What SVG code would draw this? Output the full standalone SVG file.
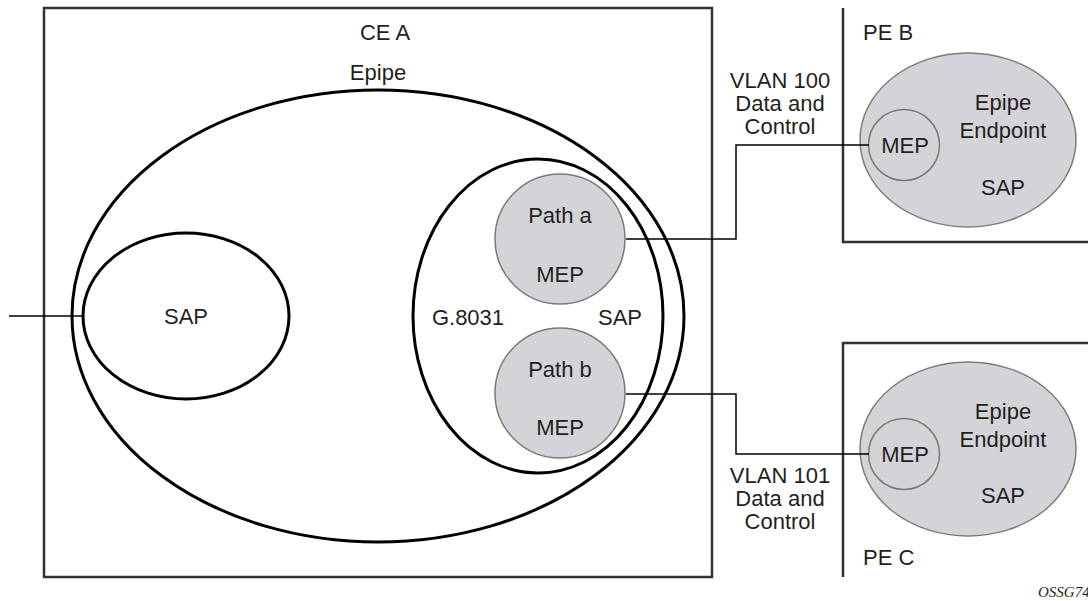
<svg xmlns="http://www.w3.org/2000/svg" width="1088" height="601" viewBox="0 0 1088 601">
<style>
.box{fill:none;stroke:#333;stroke-width:2.5}
.ell{fill:none;stroke:#000;stroke-width:3}
.grey{fill:#d4d4d8;stroke:#7a7a7a;stroke-width:1.5}
.conn{fill:none;stroke:#000;stroke-width:1.5}
text{font-family:"Liberation Sans",Arial,sans-serif;font-size:22px;fill:#231f20;text-anchor:middle}
.lab{text-anchor:start}
.tag{font-family:"Liberation Serif","Times New Roman",serif;font-style:italic;font-size:15px;text-anchor:start}
</style>
<rect width="1088" height="601" fill="#fff"/>
<g id="ce-a">
<rect class="box" x="44" y="8" width="668" height="569"/>
<text x="385" y="40">CE A</text>
</g>
<g id="epipe">
<ellipse class="ell" cx="378" cy="316" rx="306" ry="226"/>
<text x="378" y="80">Epipe</text>
</g>
<g id="sap-left">
<ellipse class="ell" cx="186" cy="316" rx="103" ry="83"/>
<text x="186" y="324">SAP</text>
</g>
<g id="g8031-sap">
<ellipse class="ell" cx="538" cy="316" rx="125" ry="157"/>
<text x="468" y="325">G.8031</text>
<text x="620" y="325">SAP</text>
</g>
<g id="path-a">
<circle class="grey" cx="560" cy="239" r="65"/>
<text x="560" y="223">Path a</text>
<text x="560" y="282">MEP</text>
</g>
<g id="path-b">
<circle class="grey" cx="560" cy="393" r="65"/>
<text x="560" y="377">Path b</text>
<text x="560" y="435">MEP</text>
</g>
<g id="pe-b">
<polyline class="box" points="843,8 843,242 1090,242"/>
<text class="lab" x="863" y="40">PE B</text>
<ellipse class="grey" cx="968" cy="140" rx="108" ry="87"/>
<text x="1003" y="110">Epipe</text>
<text x="1003" y="138">Endpoint</text>
<text x="1003" y="195">SAP</text>
</g>
<g id="pe-b-mep">
<circle class="grey" cx="904" cy="145" r="35.5"/>
<text x="905" y="153">MEP</text>
</g>
<g id="pe-c">
<polyline class="box" points="843,577 843,343 1090,343"/>
<text class="lab" x="863" y="565">PE C</text>
<ellipse class="grey" cx="968" cy="449" rx="108" ry="87"/>
<text x="1003" y="419">Epipe</text>
<text x="1003" y="447">Endpoint</text>
<text x="1003" y="503">SAP</text>
</g>
<g id="pe-c-mep">
<circle class="grey" cx="904" cy="454" r="35.5"/>
<text x="905" y="462">MEP</text>
</g>
<g id="connectors">
<line class="conn" x1="9" y1="316" x2="83" y2="316"/>
<polyline class="conn" points="626,239 736,239 736,145 869,145"/>
<polyline class="conn" points="626,394 736,394 736,454 869,454"/>
</g>
<g id="labels">
<text x="780" y="88">VLAN 100</text>
<text x="780" y="111">Data and</text>
<text x="780" y="134">Control</text>
<text x="780" y="483">VLAN 101</text>
<text x="780" y="506">Data and</text>
<text x="780" y="529">Control</text>
<text class="tag" x="1038" y="597">OSSG74</text>
</g>
</svg>
